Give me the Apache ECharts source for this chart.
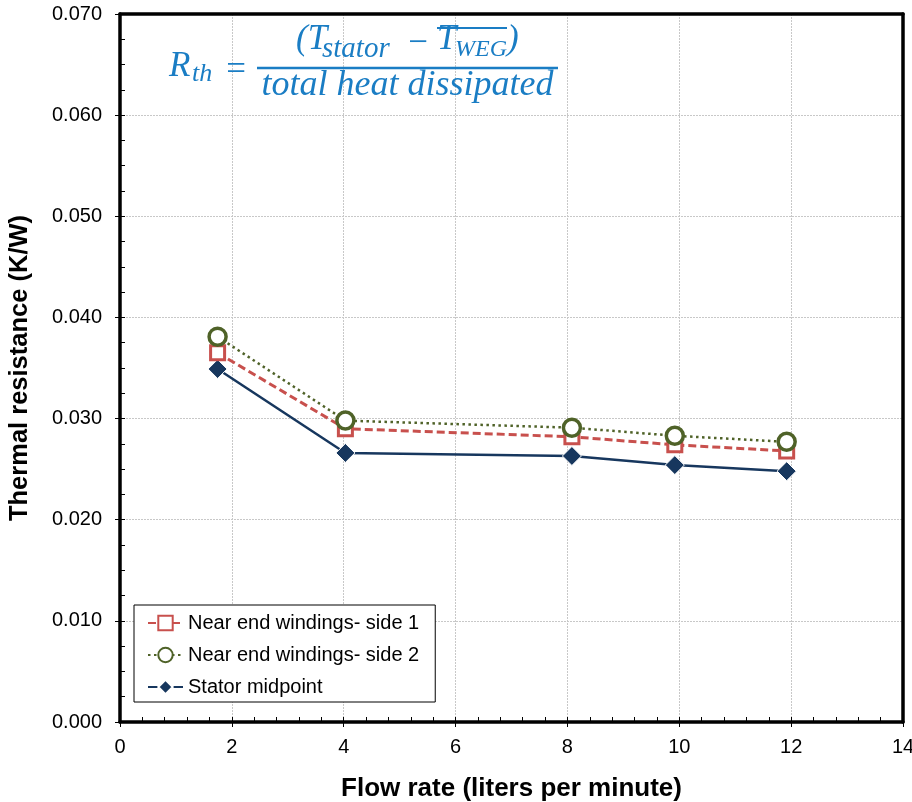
<!DOCTYPE html>
<html><head><meta charset="utf-8">
<script src="https://cdn.jsdelivr.net/npm/echarts@6/dist/echarts.min.js"></script>
<style>html,body{margin:0;padding:0;background:#fff}#c{width:912px;height:802px}</style>
</head><body><div id="c"></div>
<script>
const flowRate = [1.745, 4.03, 8.08, 9.92, 11.92];
const side1 = [0.0365, 0.0290, 0.0282, 0.0274, 0.0268];
const side2 = [0.0381, 0.0298, 0.0291, 0.0283, 0.0277];
const stator = [0.0349, 0.0266, 0.0263, 0.0254, 0.0248];
const seriesNames = ['Near end windings- side 1', 'Near end windings- side 2', 'Stator midpoint'];
const xTitle = 'Flow rate (liters per minute)';
const yTitle = 'Thermal resistance (K/W)';

const pairs = ys => flowRate.map((x, i) => [x, ys[i]]);
const blue = '#1a7dc4';
const ff = 'Liberation Serif';
const chart = echarts.init(document.getElementById('c'));
const txt = (x, y, s, size, align) => ({
  type: 'text', x: x, y: y, z: 100,
  style: { text: s, fill: blue, font: 'italic ' + size + 'px "' + ff + '"', textAlign: align || 'left', textVerticalAlign: 'middle' }
});
const frameLine = { show: true, onZero: false, lineStyle: { color: '#000', width: 3.5 } };
const gridLine = { show: true, lineStyle: { color: '#c8c8c8', type: [2, 1], width: 1 } };
const labelFont = { color: '#000', fontSize: 20, fontFamily: 'Liberation Sans' };
const titleFont = { color: '#000', fontSize: 26, fontWeight: 'bold', fontFamily: 'Liberation Sans' };
chart.setOption({
  animation: false,
  grid: { left: 120, right: 9, top: 14, bottom: 80, outerBoundsMode: 'none', containLabel: false },
  xAxis: [
    { type: 'value', min: 0, max: 14, interval: 2,
      axisLine: frameLine,
      axisTick: { show: true, inside: false, length: 5, lineStyle: { color: '#000', width: 1 } },
      axisLabel: Object.assign({ margin: 15 }, labelFont),
      splitLine: gridLine,
      name: xTitle, nameLocation: 'middle', nameGap: 54, nameTextStyle: titleFont },
    { type: 'value', min: 0, max: 14, interval: 0.4, position: 'bottom',
      axisLine: { show: false }, axisLabel: { show: false }, splitLine: { show: false },
      axisTick: { show: true, inside: true, length: 5, lineStyle: { color: '#000', width: 1 } } },
    { type: 'value', min: 0, max: 14, position: 'top',
      axisLine: frameLine, axisLabel: { show: false }, splitLine: { show: false }, axisTick: { show: false } }
  ],
  yAxis: [
    { type: 'value', min: 0, max: 0.07, interval: 0.01,
      axisLine: frameLine,
      axisTick: { show: true, inside: false, length: 5, lineStyle: { color: '#000', width: 1 } },
      axisLabel: Object.assign({ margin: 18, formatter: v => v.toFixed(3) }, labelFont),
      splitLine: gridLine,
      name: yTitle, nameLocation: 'middle', nameGap: 87, nameRotate: 90,
      nameTextStyle: Object.assign({}, titleFont, { fontSize: 25.5 }) },
    { type: 'value', min: 0, max: 0.07, interval: 0.0025, position: 'left',
      axisLine: { show: false }, axisLabel: { show: false }, splitLine: { show: false },
      axisTick: { show: true, inside: true, length: 5, lineStyle: { color: '#000', width: 1 } } },
    { type: 'value', min: 0, max: 0.07, position: 'right',
      axisLine: frameLine, axisLabel: { show: false }, splitLine: { show: false }, axisTick: { show: false } }
  ],
  legend: {
    orient: 'vertical', left: 134, top: 605, data: seriesNames,
    backgroundColor: '#fff', borderColor: '#000', borderWidth: 1,
    padding: [8, 16, 5, 13], itemGap: 12, itemWidth: 35, itemHeight: 18,
    textStyle: { color: '#000', fontSize: 20, fontFamily: 'Liberation Sans' }
  },
  series: [
    { name: seriesNames[0], type: 'line', data: pairs(side1), symbol: 'rect', symbolSize: 14,
      itemStyle: { color: '#fff', borderColor: '#c8504d', borderWidth: 3 },
      lineStyle: { color: '#c8504d', width: 3, type: [8, 4] }, z: 3 },
    { name: seriesNames[1], type: 'line', data: pairs(side2), symbol: 'circle', symbolSize: 17,
      itemStyle: { color: '#fff', borderColor: '#4f6228', borderWidth: 3.5 },
      lineStyle: { color: '#4f6228', width: 2.5, type: [2.5, 3.5] }, z: 4 },
    { name: seriesNames[2], type: 'line', data: pairs(stator), symbol: 'diamond', symbolSize: 19,
      itemStyle: { color: '#17375e', borderColor: '#fff', borderWidth: 1 },
      lineStyle: { color: '#17375e', width: 2.5 }, z: 2 }
  ],
  graphic: [
    txt(169, 66.5, 'R', 35),
    txt(192, 74.5, 'th', 26),
    txt(224, 71, '=', 35),
    txt(296, 39.5, '(T', 35),
    txt(322, 49.5, 'stator', 29),
    txt(406, 44, '−', 35),
    txt(437, 39.5, 'T', 35),
    txt(455, 49.5, 'WEG', 24),
    txt(507, 39.5, ')', 35),
    txt(407.5, 85.5, 'total heat dissipated', 36, 'center'),
    { type: 'line', z: 100, shape: { x1: 257, y1: 68, x2: 558, y2: 68 }, style: { stroke: blue, lineWidth: 2.5 } },
    { type: 'line', z: 100, shape: { x1: 437, y1: 28, x2: 507, y2: 28 }, style: { stroke: blue, lineWidth: 2 } }
  ]
});
</script></body></html>
